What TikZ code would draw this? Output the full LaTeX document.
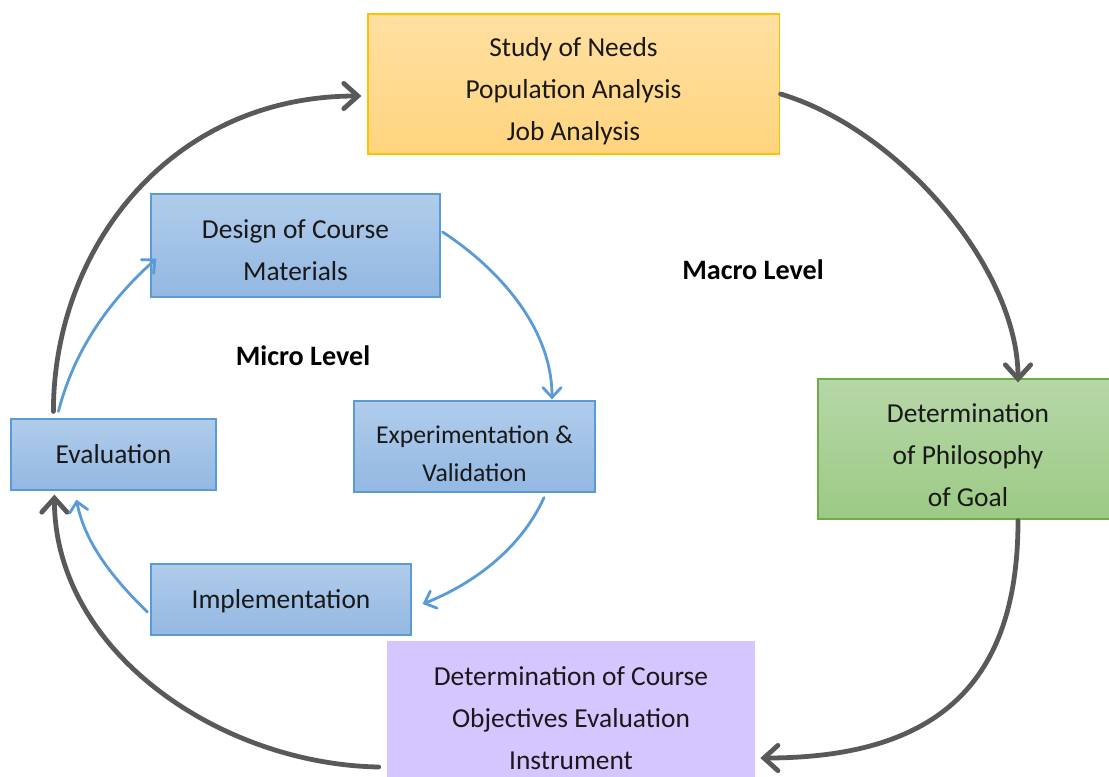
\documentclass[tikz,border=0pt]{standalone}
\usepackage{fontspec}
\setmainfont{Carlito}
\usetikzlibrary{arrows.meta,calc}
\definecolor{gline}{HTML}{595959}
\definecolor{bline}{HTML}{5B9BD5}
\definecolor{ytop}{HTML}{FFE0A2}
\definecolor{ybot}{HTML}{FFD47E}
\definecolor{yedge}{HTML}{FFC000}
\definecolor{btop}{HTML}{B0CCEB}
\definecolor{bbot}{HTML}{93B8E2}
\definecolor{gtop}{HTML}{B6D7A8}
\definecolor{gbot}{HTML}{9CCA84}
\definecolor{gedge}{HTML}{70AD47}
\definecolor{pfill}{HTML}{D6C6FF}
% text block, lowered by #1 pt, without changing the box
\newcommand\tblk[2]{\raisebox{-#1pt}[0pt][0pt]{\begin{tabular}{@{}c@{}}#2\end{tabular}}}
\tikzset{
  box/.style={rectangle, inner sep=0pt, font=\fontsize{19.5}{29.9}\selectfont, text=black!90},
  ybox/.style={box, draw=yedge, line width=0.8pt, top color=ytop, bottom color=ybot},
  bbox/.style={box, draw=bline, line width=0.8pt, top color=btop, bottom color=bbot},
  gbox/.style={box, draw=gedge, line width=0.8pt, top color=gtop, bottom color=gbot},
  pbox/.style={box, fill=pfill},
  garr/.style={draw=gline, line width=3.4pt, line cap=round, -{Straight Barb[length=10pt,width=18pt,line cap=round]}},
  barr/.style={draw=bline, line width=2pt, line cap=round, -{Straight Barb[length=7pt,width=13pt,line cap=round]}},
  lvl/.style={font=\fontsize{20}{24}\selectfont\bfseries}
}
\begin{document}
\begin{tikzpicture}[x=0.025cm,y=-0.025cm]
\useasboundingbox (0,0) rectangle (1109,776);
\node[ybox, minimum width=10.275cm, minimum height=3.5cm] (needs) at (573.5,84) {\tblk{9.2}{Study of Needs\\Population Analysis\\Job Analysis}};
\node[gbox, minimum width=7.5cm, minimum height=3.5cm] (goal) at (968,449) {\tblk{10.5}{Determination\\of Philosophy\\of Goal}};
\node[pbox, minimum width=9.2cm, minimum height=3.85cm] (obj) at (571,718) {\tblk{5.7}{Determination of Course\\Objectives Evaluation\\Instrument}};
\node[bbox, minimum width=7.225cm, minimum height=2.575cm] (design) at (295.5,245.5) {\tblk{9}{Design of Course\\Materials}};
\node[bbox, minimum width=6.025cm, minimum height=2.275cm, font=\fontsize{18.3}{27}\selectfont] (exp) at (474.5,446.5) {\tblk{10}{Experimentation \&\\Validation}};
\node[bbox, minimum width=5.125cm, minimum height=1.775cm] (eval) at (113.5,454.5) {\tblk{5.7}{Evaluation}};
\node[bbox, minimum width=6.5cm, minimum height=1.775cm] (impl) at (281,599.5) {\tblk{5.7}{Implementation}};
\node[lvl] (macro) at (753,270) {Macro Level};
\node[lvl] (micro) at (303,356) {Micro Level};
% macro cycle
\draw[garr] ($(eval.north west)+(43,-7)$) .. controls +(0,-162) and +(-192,0) .. ($(needs.west)+(-6,12)$);
\draw[garr] ($(needs.east)+(1,10)$) .. controls +(120,36) and +(0,-113) .. ($(goal.north)+(50,4)$);
\draw[garr] ($(goal.south)+(50,1)$) .. controls +(0,160) and +(180,0) .. ($(obj.east)+(5,40)$);
\draw[garr] ($(obj.west)+(-8,49)$) .. controls +(-160,-3) and +(0,156) .. ($(eval.south west)+(44,4)$);
% micro cycle
\draw[barr] ($(eval.north west)+(48,-7)$) .. controls +(16,-62) and +(-47,42) .. ($(design.south west)+(6,-39)$);
\draw[barr] ($(design.east)+(2,-13.5)$) .. controls +(58,38) and +(0,-70) .. ($(exp.north)+(77.5,-1)$);
\draw[barr] ($(exp.south)+(69.5,5)$) .. controls +(-24,53) and +(48,-19) .. ($(impl.east)+(11,4.5)$);
\draw[barr] ($(impl.west)+(-3,12.5)$) .. controls +(-38,-37) and +(8,41) .. ($(eval.south west)+(66,9)$);
\end{tikzpicture}
\end{document}
